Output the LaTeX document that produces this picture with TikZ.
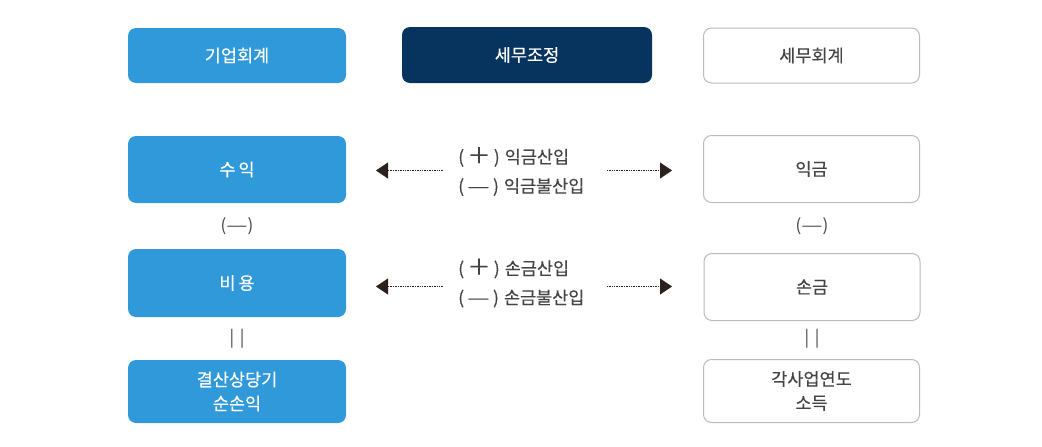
\documentclass[tikz,border=0pt]{standalone}
\usepackage{fontspec}
\setmainfont{Noto Sans CJK KR}
\usetikzlibrary{arrows.meta}
\definecolor{blu}{HTML}{3099D9}
\definecolor{navy}{HTML}{07335F}
\definecolor{edgegray}{HTML}{BBBBBB}
\definecolor{txtgray}{HTML}{444444}
\definecolor{arr}{HTML}{2A201E}
\newcommand{\wdash}{\scalebox{1.4}[1]{—}}
\newcommand{\wplus}{\scalebox{1.3}[1.25]{＋}}
\tikzset{
  boxbase/.style={rounded corners=8pt, minimum width=218pt, align=center, inner sep=0pt, font=\fontsize{17.5}{24}\selectfont\addfontfeatures{FakeBold=0.3}},
  bluebox/.style={boxbase, fill=blu, text=white},
  navybox/.style={boxbase, fill=navy, text=white, minimum width=250pt},
  whitebox/.style={boxbase, draw=edgegray, line width=1pt, fill=white, text=txtgray, minimum width=216pt},
  lbl/.style={text=txtgray, font=\fontsize{17}{20}\selectfont, inner sep=0pt},
  midlbl/.style={text=txtgray, font=\fontsize{17.5}{20}\selectfont\addfontfeatures{FakeBold=0.3}, inner sep=0pt, anchor=west},
  dotarrow/.style={arr, line width=0.8pt, dash pattern=on 0.8pt off 0.9pt, -{Triangle[length=12pt,width=16pt]}},
}
\begin{document}
\begin{tikzpicture}[x=1pt,y=-1pt]
\useasboundingbox[fill=white] (0,0) rectangle (1042,447);

% headers
\node[bluebox, minimum height=55pt] (h1) at (237,55.5) {기업회계};
\node[navybox, minimum height=56pt] (h2) at (527,55) {세무조정};
\node[whitebox, minimum height=55pt] (h3) at (811.5,55.5) {세무회계};

% left column
\node[bluebox, minimum height=67pt] (rev) at (237,169.5) {수\,익};
\node[lbl] (lminus) at (237,226) {(\wdash)};
\node[bluebox, minimum height=68pt] (cost) at (237,283) {비\,용};
\node[lbl] (leq) at (237,339) {|\,\,|};
\node[bluebox, minimum height=63pt] (net) at (237,391.5) {결산상당기\\순손익};

% right column
\node[whitebox, minimum height=67pt] (ig) at (811.5,169) {익금};
\node[lbl] (rminus) at (812,226) {(\wdash)};
\node[whitebox, minimum height=67pt] (sg) at (812,287) {손금};
\node[lbl] (req) at (812,339) {|\,\,|};
\node[whitebox, minimum height=63pt] (inc) at (811.5,391) {각사업연도\\소득};

% middle labels
\node[midlbl] (m1) at (458,157) {(\hspace{3.5pt}\wplus\hspace{3.5pt})\hspace{5pt}익금산입};
\node[midlbl] (m2) at (458,187) {(\hspace{3.5pt}\wdash\hspace{3.5pt})\hspace{5pt}익금불산입};
\node[midlbl] (m3) at (458,268.5) {(\hspace{3.5pt}\wplus\hspace{3.5pt})\hspace{5pt}손금산입};
\node[midlbl] (m4) at (458,298.5) {(\hspace{3.5pt}\wdash\hspace{3.5pt})\hspace{5pt}손금불산입};

% arrows
\coordinate (a1s) at (443,170.5);
\coordinate (a1e) at (376,170.5);
\coordinate (b1s) at (607,170.5);
\coordinate (b1e) at (672,170.5);
\coordinate (a2s) at (443,286.5);
\coordinate (a2e) at (376,286.5);
\coordinate (b2s) at (607,286.5);
\coordinate (b2e) at (672,286.5);
\draw[dotarrow] (a1s) -- (a1e);
\draw[dotarrow] (b1s) -- (b1e);
\draw[dotarrow] (a2s) -- (a2e);
\draw[dotarrow] (b2s) -- (b2e);
\end{tikzpicture}
\end{document}
